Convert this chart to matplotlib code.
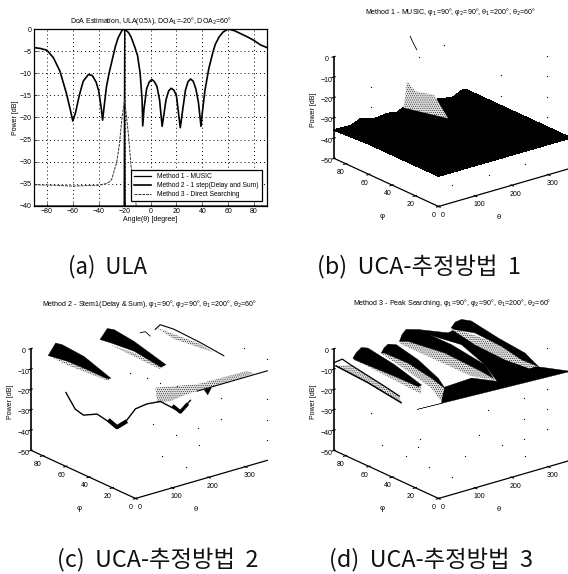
"""Four DoA estimation panels: ULA line plot and three UCA surfaces."""
import numpy as np
import matplotlib
matplotlib.use("Agg")
import matplotlib.pyplot as plt
from mpl_toolkits.mplot3d.art3d import Poly3DCollection

plt.rcParams["font.family"] = ["Liberation Sans", "DejaVu Sans"]
plt.rcParams["mathtext.fontset"] = "dejavusans"
plt.rcParams["hatch.linewidth"] = 0.3

CJK = ["Noto Sans CJK KR", "DejaVu Sans"]
W, H = 568, 574
SPECKLE = "." * 8

# ---------------- (a) ULA ----------------
ula_angle = [-90, -85, -80, -75, -70, -65, -62, -60, -58, -55, -52, -48, -45, -42, -40, -38, -37, -36, -34, -32, -30,
             -27, -25, -22, -20, -17, -15, -12, -10, -8, -6.5, -6, -5, -3, -1, 1, 3, 5, 7, 9, 10, 12, 14, 16, 18, 20, 23,
             25, 27, 29, 31, 33, 35, 37, 39, 40, 42, 45, 48, 50, 53, 56, 60, 65, 70, 75, 80, 85, 90]
ula_beam = [-4.2, -4.4, -4.8, -6.5, -9.5, -14.5, -18.2, -20.8, -19, -15, -11.8, -10.3, -10.5, -12, -14, -18, -20.6,
            -18, -13, -10, -7.5, -3.8, -2, -0.3, 0, -0.8, -1.8, -4.2, -6, -10, -16, -21.9, -18, -13.5, -12, -11.4, -11.9,
            -13, -16, -22, -20, -16, -14, -13.4, -13.8, -15, -22.3, -18, -13.8, -11.9, -11.3, -11.8, -13.5, -16.5,
            -22, -19, -14, -9, -5.5, -3.5, -1.8, -0.7, 0, -0.4, -1.1, -1.8, -2.6, -3.6, -4.2]
ula_music_angle = [-90, -20.4, -20, -19.6, 90]
ula_music = [-40, -40, 0, -40, -40]
ula_search_angle = [-90, -75, -60, -50, -40, -35, -32, -30, -28, -26, -24, -22, -20, -17, -15, -13, -11]
ula_search = [-35.2, -35.3, -35.5, -35.4, -35.3, -35, -34.6, -34, -32, -30, -26, -20, -16, -24, -31, -36, -40]
ula_xticks = [-80, -60, -40, -20, 0, 20, 40, 60, 80]
ula_yticks = [0, -5, -10, -15, -20, -25, -30, -35, -40]

# ---------------- surface axes ----------------
theta_ticks = [0, 100, 200, 300]
phi_ticks = [0, 20, 40, 60, 80]
z_ticks = [0, -10, -20, -30, -40, -50]

# ---------------- (b) MUSIC ----------------
b_theta = [0, 46, 73, 109, 146, 173, 190, 223, 283, 323, 351, 360]
b_phi = [0, 60, 90]
b_power = [
    [-35, -35, -35, -35, -35, -35, -35, -35, -35, -35, -35, -35],
    [-35, -35, -35, -35, -35, -35, -35, -35, -35, -35, -35, -35],
    [-36, -36.4, -34.4, -36.4, -35.6, -36.4, -35, -35, -35.7, -37, -34.8, -35],
]
b_peak = ([190, 199, 223, 273, 226], [90, 90, 90, 90, 63], [-35, -22.5, -28.7, -33, -35])
b_spike_theta = [208, 214, 226]
b_spike_phi = [90, 90, 90]
b_spike_z = [-0.8, -3.6, -8.4]
b_dot_theta = [360, 360, 360, 360, 360, 360, 100, 100, 300, 232, 300, 200, 100]
b_dot_phi = [20, 20, 20, 20, 60, 60, 90, 90, 90, 90, 20, 20, 20]
b_dot_z = [0, -10, -20, -30, -20, -30, -20, -30, -10, -12, -50, -50, -50]

# ---------------- (c) Stem1 ----------------
c_r1 = ([41.5, 62.5, 67.5, 76, 86.4, 56.3, 55.8, 52.7, 45], [88.8, 89, 84.8, 68.7, 49, 42.4, 59.5, 75.8, 85],
        [-5, 0, 0, -2, -8, -5, -5, -5, -5])
c_r1_flank = ([62.6, 89, 71, 60], [93.4, 49.8, 45.7, 78], [-8, -8, -8, -8])
c_r2 = ([187, 202, 209.5, 207.7, 228, 211, 201.6, 193], [90, 88.5, 85, 67.3, 46.2, 45, 65.3, 82.7],
        [-5, 0, 0, -1, -8, -8, -5, -5])
c_r2_flank = ([206, 217, 213, 201], [87, 70, 43, 43], [-8, -8, -8, -8])
c_r3_theta = [301, 304, 310.5, 321, 334.7]
c_r3_phi = [78, 74.6, 65, 45.4, 29.5]
c_r3_z = [-3, 0, 0, -2, -5]
c_r3_flank = ([324, 338, 330, 311.7], [83.8, 51, 36.7, 65.5], [-5, -5, -5, -5])
c_arc_theta = [263.6, 275.7, 268]
c_arc_phi = [79, 78.6, 71.9]
c_arc_z = [-3, -3, -3]
c_valley_theta = [0, 25.5, 48, 85, 112, 139.5, 162, 190, 221, 258, 312.6, 340]
c_valley_z = [-13.7, -23.2, -27.3, -28.7, -33.3, -38, -36.7, -31.6, -30.8, -31.5, -39.5, -35.2]
c_valley_phi = 60
c_blob1_theta = [120, 139.5, 162]
c_blob1_z = [-34, -38, -36.7]
c_blob2_theta = [295, 312.6, 330]
c_blob2_z = [-36, -39.5, -37]
c_edge_theta = [168, 196, 360]
c_edge_z = [-6, -6, -6]
c_notch = ([186, 196, 206], [0, 0, 0], [-6, -9, -6])
c_wash = ([140.7, 223, 356, 357.6, 198.5, 155, 117, 88.4], [27.2, 17.2, 16, 10.7, 9.5, 8.7, 6.7, 9.2],
          [-10, -10, -10, -10, -10, -10, -10, -10])
c_trail_theta = [153.6, 163.3, 167.4, 183]
c_trail_phi = [53, 41.6, 31.4, 21.9]
c_trail_z = [-10, -10, -10, -10]
c_dot_theta = [360, 360, 360, 360, 360, 360, 360, 300, 360, 300, 300, 200, 200]
c_dot_phi = [20, 0, 40, 40, 0, 0, 0, 40, 60, 60, 80, 40, 20]
c_dot_z = [0, 0, -30, -40, -20, -30, -40, -50, -50, -50, -50, -50, -50]

# ---------------- (d) Peak searching ----------------
d_floor = ([0, 360, 318, 231, 198.7, 140.5, 111.5, 56.4], [19, 0, 17.6, 21.8, 34.6, 33.5, 33, 15.5],
           [-11, -6, -6, -10, -10, -10, -10, -10])
d_valley = ([233.7, 272, 295.4, 274, 269.5, 278.5, 172.6, 217.4, 251.6, 232.2],
            [91.9, 78, 79.7, 55.6, 28.1, 9.4, 3.2, 29, 60, 82.8],
            [-3, -3, -3, -3, -3, -3, -3, -3, -3, -3])
d_e_flank = ([296, 327.6, 301, 278.5, 269.5, 274, 289.8], [83, 29.3, 9.4, 9.4, 28.1, 55.6, 80.8],
             [-3, -3, -3, -3, -3, -3, -3])
d_e_crest = ([296, 301, 321, 332, 322.7, 327.6, 338, 297.5, 312.8, 316.9, 295.4],
             [82.8, 81, 82, 77, 50.7, 29.3, 21, 22.6, 44.8, 69, 79.7],
             [-3, 0, 0, 0, -1, -3, -8, -3, -3, -3, -3])
d_d_flank = ([160, 174, 193, 187.3, 182.5, 178.3, 152.2, 151.7, 150.7], [84.5, 81.7, 55.9, 22.4, 10.7, 6.5, 19.9, 51.4, 80],
             [-3, -3, -3, -3, -3, -3, -3, -3, -3])
d_d_crest = ([160, 166, 192, 211, 234.8, 217.4, 182.5, 187.3, 193, 174], [84.5, 84.3, 89, 84.8, 63.4, 29, 10.7, 22.4, 55.9, 81.7],
             [-3, 0, 0, 0, -3, -3, -3, -3, -3, -3])
d_c_flank = ([86.4, 92, 94.5, 78.7, 64.4, 9.9, 42, 63.9, 83.8], [77, 75.9, 56.5, 31.2, 15.2, 0.8, 19.6, 46.8, 75.6],
             [-3, -3, -3, -3, -3, -3, -3, -3, -3])
d_c_crest = ([86.4, 86.7, 108, 119.7, 123.6, 89.9, 64.4, 78.7, 94.5, 92], [77, 74.8, 78, 74.5, 57, 29, 15.2, 31.2, 56.5, 75.9],
             [-3, 0, 0, 0, -3, -3, -3, -3, -3, -3])
d_b_flank = ([17, 37.4, 3.1, 8.9], [78, 26.9, 16, 43.8], [-3, -3, -3, -3])
d_b_crest = ([20.3, 24.2, 51, 59.8, 66, 37.4, 25.7, 23.6, 17], [80.6, 78.9, 83, 80.1, 59, 26.9, 26, 48.5, 78],
             [-3, 0, 0, 0, -3, -3, -3, -3, -3])
d_a_upper_theta = [8.6, 34.8, 28, 7, 10.8]
d_a_upper_phi = [92.7, 93.9, 84.5, 49, 37.2]
d_a_upper_z = [-8, -8, -8, -8, -10]
d_a_lower_theta = [14.5, 21.8, 4.5]
d_a_lower_phi = [93, 68, 33.7]
d_a_lower_z = [-10, -12, -12]
d_a_band = ([28, 7, 10.8, 4.5, 21.8, 14.5], [84.5, 49, 37.2, 33.7, 68, 93], [-8, -8, -10, -12, -12, -10])
d_dot_theta = [360, 360, 360, 360, 360, 360, 360, 300, 300, 300, 200, 100, 100, 100, 100, 100, 186, 152.5, 257]
d_dot_phi = [20, 20, 20, 20, 40, 40, 40, 20, 40, 60, 40, 20, 40, 60, 80, 90, 75, 66, 38.6]
d_dot_z = [0, -20, -30, -40, -30, -40, -50, -50, -50, -50, -50, -50, -50, -50, -50, -37, -50, -50, -30]


def surface_axes(fig, cx, cy, title, title_x, title_y):
    """Square 3D axes whose box centre falls on pixel (cx, cy)."""
    side = 254
    frac = 0.095 / 0.185
    rect = [(cx - frac * side) / W, 1 - (cy + frac * side) / H, side / W, side / H]
    ax = fig.add_axes(rect, projection="3d", proj_type="ortho", computed_zorder=False)
    ax.patch.set_alpha(0)
    ax.view_init(elev=21.4, azim=-128.4)
    ax.set_box_aspect((1, 1, 0.65))
    ax.set_xlim(0, 360)
    ax.set_ylim(0, 90)
    ax.set_zlim(-50, 0)
    ax.set_xticks(theta_ticks)
    ax.set_yticks(phi_ticks)
    ax.set_zticks(z_ticks)
    ax.grid(False)
    for axis in (ax.xaxis, ax.yaxis, ax.zaxis):
        axis.pane.set_visible(False)
        axis.line.set_color("black")
        axis.line.set_linewidth(0.9)
        axis.set_tick_params(labelsize=5, pad=-4.5, width=0.5, length=2)
        axis.label.set_visible(False)
        axis.offsetText.set_visible(False)
    ax.zaxis.set_tick_params(pad=-5)
    ax.zaxis.line.set_linewidth(1.2)
    ax.zaxis.set_ticks_position("upper")
    ax.text(60, -33, -50, "θ", fontsize=5.5, ha="center", va="center")
    ax.text(-131.5, 7, -50, "φ", fontsize=5.5, ha="center", va="center")
    ax.text(-44, 94, -25, "Power [dB]", zdir="z", fontsize=5, ha="center", va="center")
    fig.text(title_x / W, 1 - title_y / H, title, fontsize=5.1, ha="center", va="center")
    return ax


def patch(ax, shape, order, hatch=None):
    verts = [list(zip(*shape))]
    if hatch:
        coll = Poly3DCollection(verts, facecolor="#dddddd", edgecolor="black", linewidth=0,
                                hatch=hatch, zorder=order)
    else:
        coll = Poly3DCollection(verts, facecolor="black", edgecolor="black", linewidth=0.3, zorder=order)
    ax.add_collection3d(coll)


fig = plt.figure(figsize=(W / 100, H / 100), dpi=100)

# (a)
ax = fig.add_axes([34 / W, 1 - 206 / H, 233 / W, 177 / H])
ax.plot(ula_angle, ula_beam, color="black", lw=1.2, label="Method 2 - 1 step(Delay and Sum)", zorder=3)
ax.plot(ula_music_angle, ula_music, color="black", lw=0.9, label="Method 1 - MUSIC", zorder=3)
ax.plot(ula_search_angle, ula_search, color="#333333", lw=0.7, ls=(0, (3, 1)), label="Method 3 - Direct Searching", zorder=3)
ax.set_xlim(-90, 90)
ax.set_ylim(-40, 0)
ax.set_xticks(ula_xticks)
ax.set_yticks(ula_yticks)
ax.tick_params(labelsize=5, length=2, width=0.5, pad=1.5, direction="in")
ax.grid(True, color="black", lw=0.7, ls=(0, (1, 3)))
for s in ax.spines.values():
    s.set_linewidth(0.9)
ax.set_title("DoA Estimation, ULA(0.5λ), DOA$_1$=-20°, DOA$_2$=60°", fontsize=5.0, pad=4)
ax.set_xlabel("Angle(θ) [degree]", fontsize=5, labelpad=1)
ax.set_ylabel("Power [dB]", fontsize=5, labelpad=1)
handles, labels = ax.get_legend_handles_labels()
order = [1, 0, 2]
leg = ax.legend([handles[i] for i in order], [labels[i] for i in order], loc="lower right", fontsize=4.8,
                fancybox=False, framealpha=1, edgecolor="black", borderpad=0.5, labelspacing=0.3,
                handlelength=2.6, handletextpad=0.9, borderaxespad=0.7)
leg.get_frame().set_linewidth(0.9)
leg.set_zorder(5)

# (b)
ax = surface_axes(fig, 452.2, 112.5, "Method 1 - MUSIC, φ$_1$=90°, φ$_2$=90°, θ$_1$=200°, θ$_2$=60°", 451, 12)
b_tt, b_pp = np.meshgrid(b_theta, b_phi)
ax.plot_surface(b_tt, b_pp, np.array(b_power), color="black", shade=False, linewidth=0.6,
                edgecolor="black", antialiased=False, zorder=2)
patch(ax, b_peak, 3, hatch=SPECKLE)
ax.plot(b_spike_theta, b_spike_phi, b_spike_z, color="black", lw=0.6, zorder=4)
ax.scatter(b_dot_theta, b_dot_phi, b_dot_z, s=0.8, c="black", linewidths=0, depthshade=False, zorder=1)

# (c)
ax = surface_axes(fig, 149.2, 404.5, "Method 2 - Stem1(Delay & Sum), φ$_1$=90°, φ$_2$=90°, θ$_1$=200°, θ$_2$=60°", 149, 304)
ax.scatter(c_dot_theta, c_dot_phi, c_dot_z, s=0.8, c="black", linewidths=0, depthshade=False, zorder=1)
patch(ax, c_wash, 2, hatch=SPECKLE)
patch(ax, c_r1_flank, 3, hatch=SPECKLE)
patch(ax, c_r1, 4)
patch(ax, c_r2_flank, 5, hatch=SPECKLE)
patch(ax, c_r2, 6)
patch(ax, c_r3_flank, 7, hatch=SPECKLE)
ax.plot(c_r3_theta, c_r3_phi, c_r3_z, color="black", lw=0.8, zorder=8)
ax.plot(c_arc_theta, c_arc_phi, c_arc_z, color="black", lw=0.6, zorder=8)
ax.plot(c_valley_theta, [c_valley_phi] * len(c_valley_theta), c_valley_z, color="black", lw=1.0, zorder=8)
ax.plot(c_blob1_theta, [c_valley_phi] * 3, c_blob1_z, color="black", lw=3.0, zorder=8)
ax.plot(c_blob2_theta, [c_valley_phi] * 3, c_blob2_z, color="black", lw=2.5, zorder=8)
ax.plot(c_edge_theta, [0] * 3, c_edge_z, color="black", lw=0.8, zorder=8)
patch(ax, c_notch, 8)
ax.scatter(c_trail_theta, c_trail_phi, c_trail_z, s=0.8, c="black", linewidths=0, depthshade=False, zorder=8)

# (d)
ax = surface_axes(fig, 452.2, 404.5, "Method 3 - Peak Searching, φ$_1$=90°, φ$_2$=90°, θ$_1$=200°, θ$_2$=60°", 452, 303)
ax.scatter(d_dot_theta, d_dot_phi, d_dot_z, s=0.8, c="black", linewidths=0, depthshade=False, zorder=1)
patch(ax, d_floor, 2)
patch(ax, d_valley, 3)
patch(ax, d_e_flank, 4, hatch=SPECKLE)
patch(ax, d_e_crest, 5)
patch(ax, d_d_flank, 6, hatch=SPECKLE)
patch(ax, d_d_crest, 7)
patch(ax, d_c_flank, 8, hatch=SPECKLE)
patch(ax, d_c_crest, 9)
patch(ax, d_b_flank, 10, hatch=SPECKLE)
patch(ax, d_b_crest, 11)
patch(ax, d_a_band, 12, hatch=SPECKLE)
ax.plot(d_a_upper_theta, d_a_upper_phi, d_a_upper_z, color="black", lw=0.9, zorder=13)
ax.plot(d_a_lower_theta, d_a_lower_phi, d_a_lower_z, color="black", lw=1.1, zorder=13)

# captions
fig.text(107 / W, 1 - 267 / H, "(a)  ULA", fontsize=16, family=CJK, ha="center", va="center", color="#111111")
for text, x, y in [("(b)  UCA-추정방법  1", 419, 267), ("(c)  UCA-추정방법  2", 158, 560),
                   ("(d)  UCA-추정방법  3", 431, 560)]:
    fig.text(x / W, 1 - y / H, text, fontsize=16.8, family=CJK, ha="center", va="center", color="#111111")

fig.savefig("out.png", dpi=100)
